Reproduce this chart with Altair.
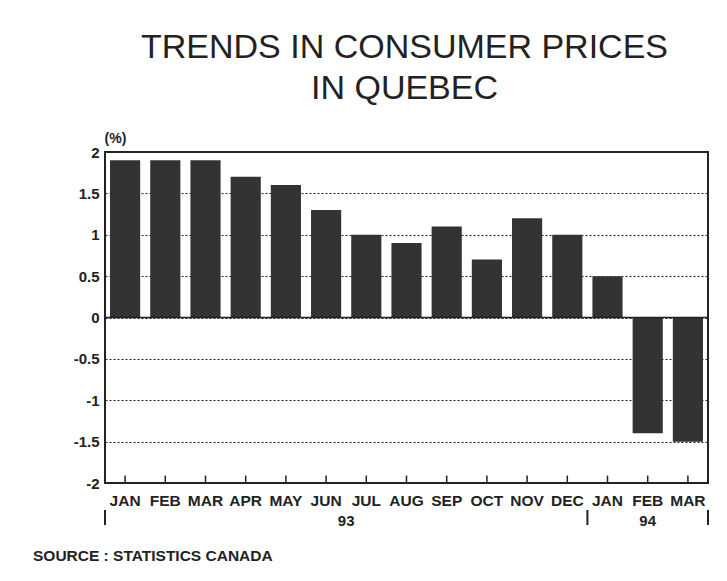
import altair as alt
import pandas as pd

# ---- data ----
months = ["JAN", "FEB", "MAR", "APR", "MAY", "JUN", "JUL", "AUG", "SEP", "OCT", "NOV", "DEC", "JAN", "FEB", "MAR"]
years = ["93"] * 12 + ["94"] * 3
values = [1.9, 1.9, 1.9, 1.7, 1.6, 1.3, 1.0, 0.9, 1.1, 0.7, 1.2, 1.0, 0.5, -1.4, -1.5]
y_ticks = [-2, -1.5, -1, -0.5, 0, 0.5, 1, 1.5, 2]
year_labels = ["93", "94"]
year_pos = [6, 13.5]          # in month-slot units
sep_pos = [0, 12, 15]         # year separators in month-slot units
title_text = ["TRENDS IN CONSUMER PRICES\nIN QUEBEC"]
source_text = ["SOURCE : STATISTICS CANADA"]

keys = [f"{m}-{y}" for m, y in zip(months, years)]
df = pd.DataFrame({"key": keys, "month": months, "value": values})
df_years = pd.DataFrame({"pos": year_pos, "label": year_labels})
df_seps = pd.DataFrame({"pos": sep_pos})
df_src = pd.DataFrame({"text": source_text})
df_title = pd.DataFrame({"text": title_text})
df_one = pd.DataFrame({"a": [0]})

FONT = "Liberation Sans"
INK = "#222222"
W, H = 603, 331
PAD = {"left": 97, "top": 144, "right": 11, "bottom": 90}

band = alt.Scale(paddingInner=0.25, paddingOuter=0.125)
slot = alt.Scale(domain=[0, 15], nice=False, zero=False)
yscale = alt.Scale(domain=[-2, 2], nice=False)

x_axis = alt.Axis(
    title=None, labelExpr="split(datum.value, '-')[0]", labelAngle=0,
    domain=False, ticks=False, labelPadding=10, labelFontSize=15.5,
    labelFontWeight="bold", labelColor=INK, labelFont=FONT,
)
y_axis = alt.Axis(
    title="(%)", titleAngle=0, titleX=10, titleY=-14, titleAlign="center",
    titleBaseline="middle", titleFont=FONT, titleFontSize=14,
    titleFontWeight="bold", titleColor=INK,
    values=y_ticks, labelExpr="'' + datum.value", grid=True,
    gridDash=[2, 2], gridColor=INK, gridWidth=1.2, domain=False, ticks=False,
    labelPadding=6, labelFont=FONT, labelFontSize=15, labelFontWeight="bold",
    labelColor=INK,
)

bars = alt.Chart(df).mark_bar(color="#333333").encode(
    x=alt.X("key:N", sort=keys, scale=band, axis=x_axis),
    y=alt.Y("value:Q", scale=yscale, axis=y_axis),
)

ticks = alt.Chart(df).mark_rule(color=INK, strokeWidth=1.5).encode(
    x=alt.X("key:N", sort=keys, scale=band, axis=None),
    y=alt.datum(-2),
    y2=alt.datum(-1.91),
)

zero = alt.Chart(df_one).mark_rule(color=INK, strokeWidth=1.5).encode(
    y=alt.datum(0)
)

# plot frame (four sides)
fr = dict(color=INK, strokeWidth=2, strokeCap="square")
f_top = alt.Chart(df_one).mark_rule(**fr).encode(x=alt.value(0), x2=alt.value(W), y=alt.value(0))
f_bot = alt.Chart(df_one).mark_rule(**fr).encode(x=alt.value(0), x2=alt.value(W), y=alt.value(H))
f_lft = alt.Chart(df_one).mark_rule(**fr).encode(x=alt.value(0), y=alt.value(0), y2=alt.value(H))
f_rgt = alt.Chart(df_one).mark_rule(**fr).encode(x=alt.value(W), y=alt.value(0), y2=alt.value(H))

year_txt = alt.Chart(df_years).mark_text(
    font=FONT, fontSize=15, fontWeight="bold", color=INK, baseline="middle"
).encode(
    x=alt.X("pos:Q", scale=slot, axis=None),
    y=alt.value(369),
    text="label:N",
)

seps = alt.Chart(df_seps).mark_rule(color=INK, strokeWidth=2).encode(
    x=alt.X("pos:Q", scale=slot, axis=None),
    y=alt.value(358),
    y2=alt.value(373),
)

source = alt.Chart(df_src).mark_text(
    font=FONT, fontSize=15.5, fontWeight="bold", color=INK, align="left",
    baseline="middle",
).encode(x=alt.value(-72), y=alt.value(404), text="text:N")

title = alt.Chart(df_title).mark_text(
    font=FONT, fontSize=34, fontWeight="normal", color=INK, align="center",
    baseline="alphabetic", lineBreak="\n", lineHeight=41,
).encode(x=alt.value(W / 2 - 2), y=alt.value(-94), text="text:N")

chart = alt.layer(
    bars, ticks, zero, f_top, f_bot, f_lft, f_rgt, year_txt, seps, source,
    title
).resolve_scale(
    x="independent"
).properties(
    width=W, height=H,
    autosize=alt.AutoSizeParams(type="none"),
    padding=PAD,
).configure(background="white").configure_view(strokeWidth=0)

chart.save("out.html", embed_options={"renderer": "svg", "actions": False})
